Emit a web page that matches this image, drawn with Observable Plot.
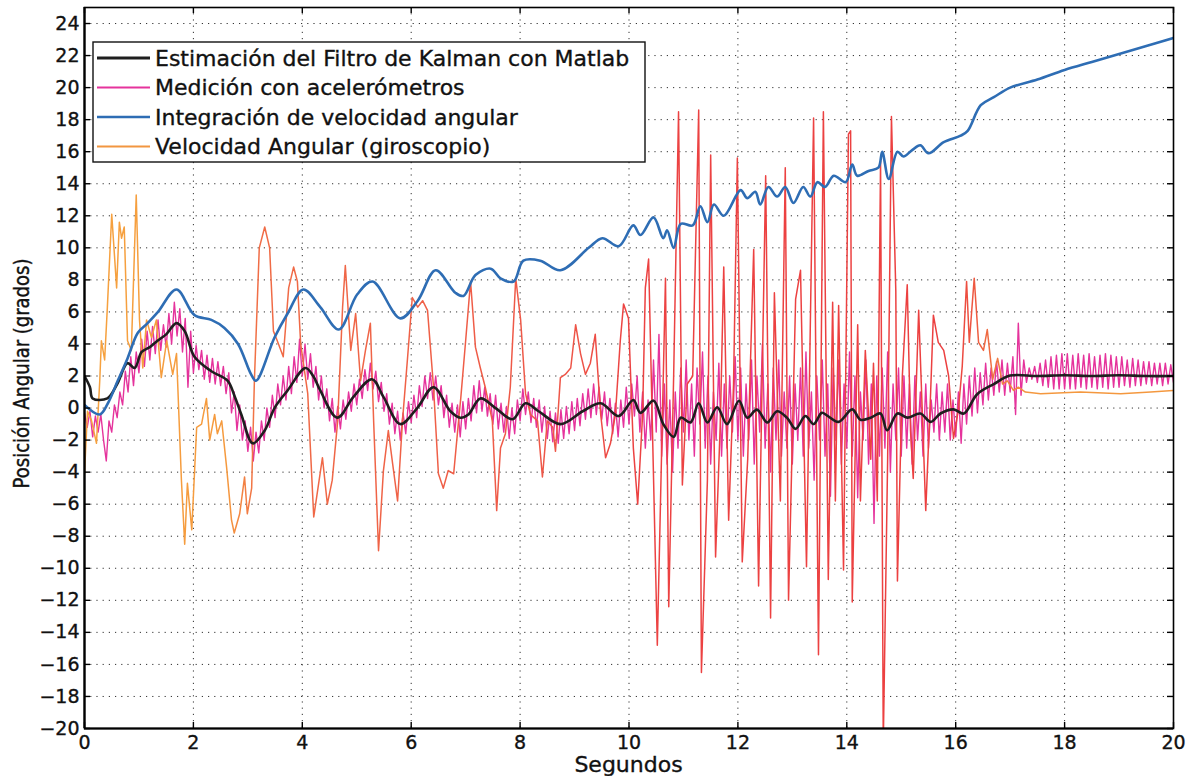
<!DOCTYPE html>
<html>
<head>
<meta charset="utf-8">
<script src="https://cdn.jsdelivr.net/npm/d3@7"></script>
<script src="https://cdn.jsdelivr.net/npm/@observablehq/plot@0.6"></script>
<style>
  html, body { margin: 0; padding: 0; background: #fff; }
  #chart { width: 1198px; height: 776px; }
  #chart svg { font-family: "DejaVu Sans", sans-serif; }
  #chart svg text { stroke: #111; stroke-width: 0.35px; }
</style>
</head>
<body>
<div id="chart"></div>
<script>
// Legend entries, in plotting order of the original figure
const seriesNames = [
  "Estimación del Filtro de Kalman con Matlab",
  "Medición con acelerómetros",
  "Integración de velocidad angular",
  "Velocidad Angular (giroscopio)"
];
const seriesColors = ["#1e1e1e", "#e5339c", "#2e6db4", "#f29640"];

const xTicks = [0, 2, 4, 6, 8, 10, 12, 14, 16, 18, 20];
const yTicks = [-20, -18, -16, -14, -12, -10, -8, -6, -4, -2, 0, 2, 4, 6, 8, 10, 12, 14, 16, 18, 20, 22, 24];

// Kalman filter estimate: [seconds, degrees]
const kalman = [
  [0, 2.0], [0.1, 1.3], [0.15, 0.6], [0.42, 0.6], [0.6, 1.5], [0.79, 2.8], [0.92, 2.5], [1.05, 3.5],
  [1.2, 3.8], [1.34, 4.2], [1.5, 4.6], [1.69, 5.3], [1.84, 4.8], [2.02, 3.2], [2.33, 2.3], [2.63, 1.7],
  [2.75, 0.8], [2.88, -0.4], [3.09, -2.2], [3.31, -1.4], [3.49, 0.0], [3.73, 1.1], [4.06, 2.5], [4.2, 2.0],
  [4.33, 1.1], [4.64, -0.6], [4.94, 0.7], [5.28, 1.8], [5.49, 0.7], [5.8, -1.0], [6.11, 0.0], [6.41, 1.3],
  [6.72, -0.2], [6.9, -0.6], [7.05, -0.4], [7.27, 0.6], [7.55, 0.0], [7.86, -0.7], [8.1, 0.3], [8.34, -0.2],
  [8.74, -1.0], [9.15, -0.2], [9.48, 0.3], [9.81, -0.5], [10.08, 0.5], [10.21, -0.3], [10.45, 0.46],
  [10.63, -1.0], [10.82, -1.8], [10.95, -0.6], [11.13, -0.9], [11.28, 0.3], [11.44, -0.9], [11.62, 0.05],
  [11.8, -1.0], [12.02, 0.46], [12.17, -0.6], [12.35, -0.1], [12.54, -0.9], [12.72, -0.2], [12.9, -0.6],
  [13.06, -1.3], [13.24, -0.5], [13.39, -1.0], [13.54, -0.3], [13.64, -0.47], [13.85, -0.86], [14.1, -0.08],
  [14.25, -0.73], [14.44, -0.6], [14.62, -0.34], [14.74, -1.39], [14.93, -0.34], [15.11, -0.6], [15.35, -0.34],
  [15.54, -0.86], [15.72, -0.34], [15.96, -0.08], [16.15, -0.34], [16.39, 0.85], [16.7, 1.5], [17.0, 2.03],
  [17.5, 2.0], [18.0, 2.05], [18.5, 2.0], [19.0, 2.05], [19.5, 2.0], [20, 2.0]
];

// Accelerometer measurement, sampled every 0.05 s from t = 0 to t = 20
const accelStep = 0.05;
const accel = [
  -0.3, -1.2, -0.2, -1.8, -0.5, -1.5, -0.4, -2.0, -3.3, -0.8, -1.5, 0.2, -0.6, 1.0, 0.2, 2.3, 1.0, 3.2, 1.4, 3.5,
  2.2, 4.3, 2.6, 4.8, 3.0, 5.1, 3.4, 5.5, 3.6, 5.2, 3.8, 5.9, 4.0, 6.6, 4.5, 6.2, 3.5, 5.6, 1.3, 4.8,
  2.2, 3.9, 2.4, 3.6, 1.8, 3.3, 1.6, 3.1, 1.5, 2.9, 1.4, 2.6, 0.9, 2.2, -0.3, 1.0, -1.4, 0.2, -2.0, -0.8,
  -2.7, -1.2, -3.3, -1.5, -2.8, -0.8, -2.0, 0.0, -1.2, 0.8, -0.6, 1.5, 0.2, 2.0, 0.5, 2.6, 0.9, 3.2, 1.6, 4.3,
  2.0, 4.0, 1.8, 3.4, 1.3, 2.6, 0.5, 2.0, 0.0, 1.2, -0.8, 0.6, -1.5, 0.1, -1.3, 0.5, -0.7, 1.0, -0.2, 1.5,
  0.2, 1.8, 0.6, 2.4, 1.1, 2.8, 1.2, 2.3, 0.4, 1.6, -0.2, 0.9, -1.0, 0.3, -1.6, -0.2, -2.0, -0.3, -1.6, 0.4,
  -0.9, 0.8, -0.6, 1.4, 0.1, 2.0, 0.6, 2.2, 0.5, 2.0, 0.2, 1.4, -0.6, 0.8, -1.2, 0.3, -1.5, 0.2, -1.8, 0.4,
  -1.3, 0.6, -0.8, 1.4, -0.3, 1.7, -0.2, 1.3, -0.5, 0.9, -1.0, 0.8, -1.3, 0.3, -1.5, 0.1, -1.9, 0.0, -1.6, 0.5,
  -0.8, 1.2, -0.4, 1.0, -0.9, 0.6, -1.2, 0.5, -1.5, 0.1, -1.9, -0.2, -2.1, -0.3, -2.2, -0.1, -1.9, 0.1, -1.6, 0.4,
  -1.4, 0.6, -1.1, 0.9, -0.7, 1.2, -0.6, 1.5, -0.4, 1.3, -0.7, 1.0, -1.1, 0.6, -1.6, 0.3, -1.8, 0.5, -1.2, 1.3,
  -1.0, 1.5, -0.5, 2.0, -1.5, 1.0, -2.5, 0.5, -2.0, 3.0, -1.5, 4.6, -3.0, 1.5, -3.5, 0.5, -4.0, 1.0, -2.5, 2.5,
  -1.5, 3.0, -2.0, 1.5, -3.0, 2.5, -1.0, 3.5, -2.5, 2.0, -3.5, 1.0, -2.0, 2.8, -3.0, 1.5, -2.5, 2.0, -1.5, 3.2,
  -2.0, 2.5, -3.0, 1.5, -2.0, 3.0, -3.5, 2.0, -1.5, 4.0, -2.5, 1.5, -4.0, 2.5, -2.0, 3.0, -3.0, 1.0, -2.5, 2.0,
  -3.5, 1.5, -2.0, 2.5, -3.0, 3.5, -2.5, 1.0, -4.5, 2.0, -2.0, 3.0, -3.0, 1.5, -5.5, 2.5, -2.0, 3.0, -3.5, 1.5,
  -2.5, 3.5, -3.0, 2.0, -5.6, 1.0, -2.0, 3.0, -3.5, 1.5, -7.2, 2.0, -3.0, 2.5, -2.5, 3.5, -4.0, 1.5, -2.0, 2.5,
  -3.0, 2.0, -2.5, 1.5, -3.5, 2.0, -2.0, 1.0, -3.0, 1.5, -2.5, 0.5, -1.5, 1.5, -2.0, 1.0, -1.5, 1.5, -2.0, 0.5,
  -1.8, 1.0, -2.2, 1.5, -1.0, 2.0, -0.5, 2.5, -0.3, 2.2, 0.2, 2.8, 0.5, 2.5, 0.8, 2.9, 1.0, 3.0, 0.8, 2.8,
  1.0, 3.2, -0.4, 5.3, 0.8, 3.0, 1.6, 2.5, 1.8, 2.6, 1.6, 2.8, 1.4, 3.0, 1.3, 3.2, 1.2, 3.3, 1.2, 3.4,
  1.2, 3.4, 1.2, 3.3, 1.2, 3.4, 1.3, 3.3, 1.2, 3.4, 1.3, 3.2, 1.2, 3.3, 1.3, 3.4, 1.2, 3.3, 1.3, 3.2,
  1.3, 3.2, 1.4, 3.0, 1.3, 3.1, 1.4, 3.0, 1.4, 2.9, 1.5, 2.9, 1.4, 2.8, 1.5, 2.8, 1.4, 2.8, 1.5, 2.7,
  1.6
];

// Integrated angular velocity: [seconds, degrees]
const integration = [
  [0, 0.2], [0.28, -0.4], [0.43, 0.3], [0.61, 1.7], [0.79, 3.1], [0.98, 4.7], [1.16, 5.3], [1.35, 6.0],
  [1.69, 7.4], [2.02, 5.8], [2.33, 5.5], [2.57, 5.0], [2.82, 4.0], [3.06, 2.1], [3.15, 1.7], [3.49, 4.4],
  [3.73, 5.9], [4.02, 7.4], [4.33, 6.3], [4.67, 4.9], [5.01, 7.1], [5.29, 7.9], [5.8, 5.6], [6.12, 6.7],
  [6.45, 8.6], [6.81, 7.2], [6.96, 7.0], [7.18, 8.3], [7.46, 8.7], [7.64, 8.1], [7.88, 7.9], [8.06, 9.2],
  [8.37, 9.2], [8.74, 8.6], [9.26, 10.0], [9.51, 10.6], [9.81, 10.1], [10.08, 11.4], [10.21, 10.8],
  [10.45, 11.9], [10.63, 10.6], [10.7, 11.1], [10.82, 10.0], [10.95, 11.5], [11.17, 11.4], [11.31, 12.6],
  [11.44, 11.6], [11.56, 12.7], [11.74, 12.0], [12.05, 13.6], [12.17, 13.1], [12.32, 13.5], [12.41, 12.7],
  [12.56, 13.8], [12.72, 13.2], [12.87, 13.8], [13.02, 12.8], [13.2, 13.8], [13.33, 13.2], [13.46, 14.1],
  [13.6, 13.8], [13.76, 14.5], [13.98, 14.1], [14.1, 15.2], [14.19, 14.5], [14.4, 14.8], [14.58, 15.0],
  [14.65, 16.0], [14.77, 14.3], [14.93, 16.0], [15.04, 15.7], [15.2, 16.1], [15.35, 16.4], [15.5, 15.9],
  [15.78, 16.6], [16.09, 17.0], [16.22, 17.3], [16.46, 18.9], [16.7, 19.4], [17.0, 20.0], [17.5, 20.5],
  [18.0, 21.1], [18.5, 21.6], [19.0, 22.1], [19.5, 22.6], [20, 23.1]
];

// Gyroscope angular velocity: [seconds, value]
const gyro = [
  [0, -4.1], [0.055, -0.2], [0.13, -0.8], [0.22, -2.2], [0.28, 1.7], [0.31, 4.2], [0.37, 3.0], [0.42, 6.3],
  [0.5, 12.1], [0.59, 7.5], [0.64, 11.6], [0.68, 10.6], [0.73, 11.3], [0.79, 4.2], [0.86, 3.6], [0.95, 13.3],
  [1.01, 5.5], [1.07, 2.5], [1.14, 5.5], [1.23, 4.4], [1.32, 5.5], [1.41, 1.9], [1.51, 4.2], [1.62, 2.1],
  [1.69, 3.4], [1.78, -4.5], [1.84, -8.5], [1.89, -4.7], [1.97, -7.6], [2.06, -1.2], [2.15, -1.0], [2.24, 0.6],
  [2.3, -2.0], [2.39, -0.4], [2.44, -1.6], [2.52, -0.8], [2.61, -3.7], [2.7, -7.0], [2.75, -7.8], [2.85, -6.6],
  [2.94, -4.3], [2.99, -6.6], [3.07, -5.0], [3.12, 1.7], [3.21, 10.0], [3.31, 11.3], [3.4, 10.0], [3.47, 4.8],
  [3.54, 4.2], [3.65, 3.2], [3.75, 7.5], [3.84, 8.8], [3.91, 7.9], [3.97, 4.0], [4.1, 0.9], [4.21, -6.8],
  [4.37, -3.1], [4.46, -6.0], [4.55, -4.5], [4.65, -0.8], [4.74, 6.3], [4.79, 8.9], [4.89, 3.6], [4.98, 5.9],
  [5.07, 1.7], [5.16, 3.6], [5.25, 5.3], [5.31, -0.8], [5.4, -8.9], [5.49, -3.9], [5.58, -1.4], [5.66, -3.5],
  [5.75, -5.8], [5.84, -0.8], [5.93, 3.0], [6.02, 6.9], [6.12, 6.3], [6.21, 6.7], [6.3, 6.1], [6.41, 1.3],
  [6.5, -4.1], [6.59, -5.0], [6.68, -3.9], [6.78, -4.1], [6.87, -0.8], [6.91, 0.6], [7.0, 4.2], [7.09, 7.9],
  [7.18, 3.8], [7.27, 2.5], [7.36, 1.3], [7.49, -0.8], [7.57, -6.4], [7.64, -2.5], [7.73, -1.6], [7.82, 1.3],
  [7.92, 8.1], [8.01, 5.5], [8.1, 0.9], [8.19, -0.4], [8.32, -0.8], [8.41, -4.3], [8.5, -0.8], [8.6, -1.2],
  [8.65, -2.7], [8.74, 1.9], [8.83, 2.1], [8.93, 2.5], [9.02, 5.2], [9.11, 3.4], [9.2, 2.1], [9.29, 2.8],
  [9.38, 4.6], [9.48, -0.4], [9.57, -3.1], [9.66, -2.2], [9.75, -0.4], [9.84, 4.2], [9.9, 6.5], [9.99, 5.6],
  [10.08, -2.5], [10.16, -6.0], [10.25, -0.4], [10.3, 7.5], [10.36, 9.3], [10.52, -14.8], [10.67, 8.1],
  [10.73, -12.4], [10.82, 2.0], [10.91, 18.5], [10.98, -4.8], [11.07, 1.5], [11.17, 2.0], [11.28, 18.6],
  [11.33, -16.5], [11.44, -4.5], [11.5, 15.8], [11.59, -9.3], [11.68, -0.6], [11.74, 8.8], [11.83, -7.0],
  [11.92, 1.5], [11.99, 15.6], [12.08, -9.6], [12.18, -3.2], [12.29, 9.9], [12.38, -11.1], [12.51, 14.5],
  [12.6, -13.1], [12.67, 7.2], [12.78, -5.8], [12.87, 15.0], [12.93, -12.0], [13.06, 6.8], [13.15, 8.6],
  [13.26, -9.9], [13.39, 18.1], [13.48, -15.4], [13.57, 18.5], [13.66, -10.7], [13.74, 6.6], [13.79, -5.8],
  [13.85, 6.4], [13.94, -10.1], [14.03, 17.1], [14.07, 17.3], [14.1, -12.1], [14.2, 5.2], [14.25, -5.8],
  [14.34, 3.6], [14.44, -3.2], [14.49, 2.8], [14.56, -5.8], [14.62, 15.4], [14.67, -21.0], [14.75, -3.2],
  [14.82, 18.2], [14.9, 7.3], [14.93, -10.8], [15.02, 2.0], [15.11, 7.7], [15.17, -1.4], [15.22, -4.4],
  [15.32, 6.1], [15.39, -0.6], [15.45, -6.4], [15.54, 1.0], [15.59, 5.8], [15.68, 4.1], [15.78, 3.6],
  [15.87, 2.0], [15.96, -1.9], [16.05, -0.1], [16.12, 2.6], [16.2, 7.9], [16.25, 4.1], [16.34, 8.1],
  [16.42, 4.1], [16.51, 3.6], [16.58, 4.9], [16.68, 1.8], [16.77, 3.1], [16.86, 1.5], [16.95, 1.7],
  [17.06, 1.1], [17.15, 1.3], [17.28, 1.0], [17.56, 0.9], [18.29, 1.0], [19.03, 0.9], [19.58, 1.0], [20, 1.1]
];

// ---- layout ----
const W = 1198, H = 776;
const mL = 84, mR = 25, mT = 7, mB = 48;
const frameW = W - mL - mR, frameH = H - mT - mB;
const tickLen = 6;

const toRows = (pairs) => pairs.map(([t, v]) => ({t, v}));
const accelRows = accel.map((v, i) => ({t: +(i * accelStep).toFixed(2), v}));

const inner = (d, lo, hi) => d > lo && d < hi;

const chart = Plot.plot({
  width: W, height: H,
  marginLeft: mL, marginRight: mR, marginTop: mT, marginBottom: mB,
  style: {fontFamily: "DejaVu Sans, sans-serif", fontSize: "19px", color: "#111", background: "#fff"},
  x: {domain: [0, 20]},
  y: {domain: [-20, 25]},
  marks: [
    Plot.gridX(xTicks.filter(d => inner(d, 0, 20)), {stroke: "#333", strokeOpacity: 1, strokeWidth: 1, strokeDasharray: "1.2,5"}),
    Plot.gridY(yTicks.filter(d => inner(d, -20, 25)), {stroke: "#333", strokeOpacity: 1, strokeWidth: 1, strokeDasharray: "1.2,5"}),
    Plot.line(accelRows, {x: "t", y: "v", stroke: seriesColors[1], strokeWidth: 1.4, clip: true}),
    Plot.line(toRows(gyro), {x: "t", y: "v", stroke: "url(#gyroStroke)", strokeWidth: 1.5, clip: true}),
    Plot.line(toRows(kalman), {x: "t", y: "v", stroke: seriesColors[0], strokeWidth: 2.6, curve: "catmull-rom", clip: true}),
    Plot.line(toRows(integration), {x: "t", y: "v", stroke: seriesColors[2], strokeWidth: 2.6, curve: "catmull-rom", clip: true}),
    // inward-pointing ticks on all four sides
    Plot.tickX(xTicks, {x: d => d, insetTop: frameH - tickLen, stroke: "#000", strokeWidth: 1.4}),
    Plot.tickX(xTicks, {x: d => d, insetBottom: frameH - tickLen, stroke: "#000", strokeWidth: 1.4}),
    Plot.tickY(yTicks, {y: d => d, insetRight: frameW - tickLen, stroke: "#000", strokeWidth: 1.4}),
    Plot.tickY(yTicks, {y: d => d, insetLeft: frameW - tickLen, stroke: "#000", strokeWidth: 1.4}),
    Plot.axisX(xTicks, {tickSize: 0, tickPadding: 7, label: null, fill: "#111"}),
    Plot.axisY(yTicks, {tickSize: 0, tickPadding: 5, label: null, fill: "#111"}),
    Plot.frame({stroke: "#000", strokeWidth: 1.6}),
    // heavier left and bottom axis lines
    Plot.ruleX([0], {stroke: "#000", strokeWidth: 2.2}),
    Plot.ruleY([-20], {stroke: "#000", strokeWidth: 2.2})
  ]
});

const svg = d3.select(chart);
const xs = chart.scale("x");

// colour ramp along the gyroscope trace
const grad = svg.insert("defs", ":first-child")
  .append("linearGradient")
  .attr("id", "gyroStroke")
  .attr("gradientUnits", "userSpaceOnUse")
  .attr("x1", xs.apply(0)).attr("x2", xs.apply(20))
  .attr("y1", 0).attr("y2", 0);
[[0, "#f6a23f"], [0.13, "#f59a3e"], [0.16, "#f06c46"], [0.45, "#ee5548"], [0.5, "#ec4242"],
 [0.8, "#ec4040"], [0.84, "#f07a42"], [0.87, "#f4983f"], [1, "#f4983f"]]
  .forEach(([o, c]) => grad.append("stop").attr("offset", o).attr("stop-color", c));

// axis titles
svg.append("text")
  .attr("x", (mL + W - mR) / 2).attr("y", H - 4)
  .attr("text-anchor", "middle")
  .attr("font-size", 22).attr("fill", "#111")
  .text("Segundos");
svg.append("text")
  .attr("transform", `translate(22,${mT + frameH / 2 + 6}) rotate(-90) scale(1,1.15)`)
  .attr("text-anchor", "middle").attr("dy", "0.35em")
  .attr("font-size", 18).attr("fill", "#111")
  .text("Posición Angular (grados)");

// legend box in the upper left of the axes
const legend = svg.append("g").attr("transform", "translate(93,42)").attr("text-anchor", "start");
legend.append("rect")
  .attr("width", 552).attr("height", 120)
  .attr("fill", "#fff").attr("stroke", "#111").attr("stroke-width", 1.4);
const legendWidths = [3, 2, 2.6, 2];
seriesNames.forEach((name, i) => {
  const y = 16 + i * 29.5;
  legend.append("line")
    .attr("x1", 4).attr("x2", 57).attr("y1", y).attr("y2", y)
    .attr("stroke", seriesColors[i]).attr("stroke-width", legendWidths[i]);
  legend.append("text")
    .attr("x", 62).attr("y", y).attr("dy", "0.36em")
    .attr("text-anchor", "start")
    .attr("font-size", 22).attr("fill", "#111")
    .text(name);
});

document.getElementById("chart").appendChild(chart);
</script>
</body>
</html>
